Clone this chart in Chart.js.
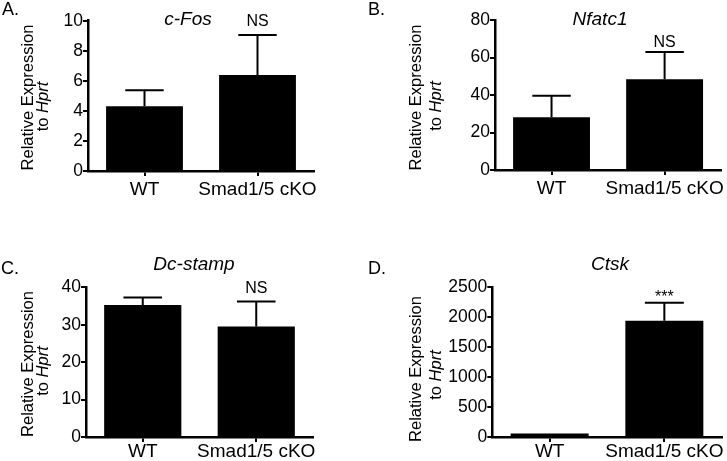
<!DOCTYPE html>
<html>
<head>
<meta charset="utf-8">
<script src="https://cdn.jsdelivr.net/npm/chart.js@4.4.1/dist/chart.umd.min.js"></script>
<style>
html, body { margin: 0; padding: 0; background: #fff; }
#wrap { position: relative; width: 727px; height: 461px; overflow: hidden; }
#wrap canvas { position: absolute; }
</style>
</head>
<body>
<div id="wrap">
  <canvas id="chartA" width="360" height="230" style="left:0;top:0"></canvas>
  <canvas id="chartB" width="367" height="230" style="left:360px;top:0"></canvas>
  <canvas id="chartC" width="360" height="231" style="left:0;top:230px"></canvas>
  <canvas id="chartD" width="367" height="231" style="left:360px;top:230px"></canvas>
</div>
<script>
// --- data ---
const groups = ['WT', 'Smad1/5 cKO'];
const genes = ['c-Fos', 'Nfatc1', 'Dc-stamp', 'Ctsk'];
const panelLetters = ['A.', 'B.', 'C.', 'D.'];

const cFosMean = [4.3, 6.38];
const cFosErr = [1.08, 2.67];
const nfatc1Mean = [28.1, 48.4];
const nfatc1Err = [11.5, 14.5];
const dcStampMean = [35.3, 29.5];
const dcStampErr = [2.0, 6.7];
const ctskMean = [60, 1943];
const ctskErr = [0, 300];

const yMax = [10, 80, 40, 2500];
const yStep = [2, 20, 10, 500];
const sigLabels = [['', 'NS'], ['', 'NS'], ['', 'NS'], ['', '***']];

// --- layout of each panel (pixels inside its canvas) ---
const layouts = [
  { id: 'chartA', left: 88, right: 314, top: 20.7, bottom: 171, xPad: 2, letter: [2, 15], title: [188, 25],
    yLab1: [28, 97.5], yLab2: [43, 106.5], sigGap: 9 },
  { id: 'chartB', left: 135, right: 362, top: 20, bottom: 170, xPad: 2, letter: [8, 15], title: [240, 25],
    yLab1: [56.7, 97.5], yLab2: [76.7, 106], sigGap: 5 },
  { id: 'chartC', left: 86, right: 313, top: 57.3, bottom: 207, xPad: -2, letter: [1, 43.5], title: [194, 40],
    yLab1: [28, 134], yLab2: [43, 141], sigGap: 9 },
  { id: 'chartD', left: 132.3, right: 361.7, top: 57.3, bottom: 207, xPad: -2, letter: [8, 43.5], title: [250, 40],
    yLab1: [56.7, 139], yLab2: [76, 145], sigGap: 1 }
];

const means = [cFosMean, nfatc1Mean, dcStampMean, ctskMean];
const errs = [cFosErr, nfatc1Err, dcStampErr, ctskErr];

const FONT = '"Liberation Sans", Arial, Helvetica, sans-serif';

const panelExtras = {
  id: 'panelExtras',
  afterDatasetsDraw(chart, args, opts) {
    const ctx = chart.ctx;
    const y = chart.scales.y;
    const meta = chart.getDatasetMeta(0);
    ctx.save();
    ctx.strokeStyle = '#000';
    ctx.lineWidth = 2;
    meta.data.forEach((bar, i) => {
      const top = y.getPixelForValue(opts.mean[i] + opts.err[i]);
      const half = bar.width / 4;
      if (opts.err[i] > 0) {
        ctx.beginPath();
        ctx.moveTo(bar.x, bar.y);
        ctx.lineTo(bar.x, top);
        ctx.moveTo(bar.x - half, top);
        ctx.lineTo(bar.x + half, top);
        ctx.stroke();
      }
      if (opts.sig[i]) {
        ctx.fillStyle = '#000';
        ctx.font = '16px ' + FONT;
        ctx.textAlign = 'center';
        ctx.textBaseline = 'alphabetic';
        ctx.fillText(opts.sig[i], bar.x, top - opts.lay.sigGap);
      }
    });
    ctx.restore();
  },
  afterDraw(chart, args, opts) {
    const ctx = chart.ctx;
    const lay = opts.lay;
    ctx.save();
    ctx.fillStyle = '#000';
    ctx.textBaseline = 'alphabetic';

    // panel letter
    ctx.font = '18px ' + FONT;
    ctx.textAlign = 'left';
    ctx.fillText(opts.letter, lay.letter[0], lay.letter[1]);

    // gene title
    ctx.font = 'italic 19px ' + FONT;
    ctx.textAlign = 'center';
    ctx.fillText(opts.gene, lay.title[0], lay.title[1]);

    // y axis title, two lines rotated
    ctx.textBaseline = 'middle';
    ctx.save();
    ctx.translate(lay.yLab1[0], lay.yLab1[1]);
    ctx.rotate(-Math.PI / 2);
    ctx.font = '16.5px ' + FONT;
    ctx.textAlign = 'center';
    ctx.fillText('Relative Expression', 0, 0);
    ctx.restore();

    ctx.save();
    ctx.translate(lay.yLab2[0], lay.yLab2[1]);
    ctx.rotate(-Math.PI / 2);
    ctx.textAlign = 'left';
    ctx.font = '16.5px ' + FONT;
    const w1 = ctx.measureText('to ').width;
    ctx.font = 'italic 16.5px ' + FONT;
    const w2 = ctx.measureText('Hprt').width;
    const x0 = -(w1 + w2) / 2;
    ctx.font = '16.5px ' + FONT;
    ctx.fillText('to ', x0, 0);
    ctx.font = 'italic 16.5px ' + FONT;
    ctx.fillText('Hprt', x0 + w1, 0);
    ctx.restore();

    ctx.restore();
  }
};

layouts.forEach((lay, p) => {
  const canvas = document.getElementById(lay.id);
  const W = canvas.width;
  const H = canvas.height;
  new Chart(canvas, {
    type: 'bar',
    data: {
      labels: groups,
      datasets: [{
        data: means[p],
        backgroundColor: '#000',
        borderWidth: 0,
        barPercentage: 0.68,
        categoryPercentage: 1
      }]
    },
    options: {
      responsive: false,
      animation: false,
      layout: { padding: { left: 0, right: W - lay.right, top: lay.top, bottom: 0 } },
      plugins: {
        legend: { display: false },
        tooltip: { enabled: false },
        panelExtras: {
          mean: means[p], err: errs[p], sig: sigLabels[p],
          gene: genes[p], letter: panelLetters[p], lay: lay
        }
      },
      scales: {
        x: {
          offset: true,
          grid: { display: true, drawOnChartArea: false, offset: false, tickLength: 5, color: '#000', lineWidth: 2 },
          border: { display: true, color: '#000', width: 2.5 },
          ticks: { color: '#000', padding: lay.xPad, maxRotation: 0, minRotation: 0, autoSkip: false,
                   font: { family: FONT, size: 19 } },
          afterFit: s => { s.height = H - lay.bottom; }
        },
        y: {
          min: 0,
          max: yMax[p],
          grid: { display: true, drawOnChartArea: false, tickLength: 5, color: '#000', lineWidth: 2 },
          border: { display: true, color: '#000', width: 2.5 },
          ticks: { stepSize: yStep[p], color: '#000', padding: 0, font: { family: FONT, size: 17.5 },
                   callback: v => String(v) },
          afterFit: s => { s.width = lay.left; }
        }
      }
    },
    plugins: [panelExtras]
  });
});
</script>
</body>
</html>
